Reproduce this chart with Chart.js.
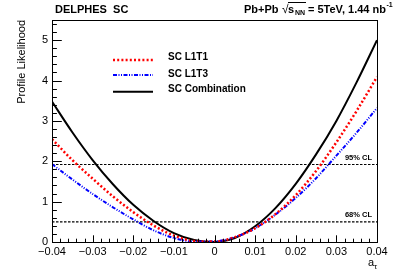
<!DOCTYPE html>
<html>
<head>
<meta charset="utf-8">
<script src="https://cdn.jsdelivr.net/npm/chart.js@4.4.1/dist/chart.umd.min.js"></script>
<style>
html,body{margin:0;padding:0;background:#fff;}
canvas{display:block;}
</style>
</head>
<body>
<canvas id="c" width="407" height="278"></canvas>
<script>
// ---- data ----
const xValues = [-0.04, -0.035, -0.03, -0.025, -0.02, -0.015, -0.01, -0.005, 0, 0.005, 0.01, 0.015, 0.02, 0.025, 0.03, 0.035, 0.04];
const scL1T1 = [2.55, 2.03, 1.57, 1.13, 0.74, 0.41, 0.16, 0.025, 0.01, 0.12, 0.34, 0.69, 1.16, 1.76, 2.47, 3.25, 4.09];
const scL1T3 = [1.93, 1.55, 1.19, 0.86, 0.56, 0.29, 0.10, 0.01, 0.015, 0.12, 0.34, 0.68, 1.09, 1.58, 2.14, 2.71, 3.32];
const scComb = [3.48, 2.72, 2.03, 1.43, 0.92, 0.52, 0.22, 0.05, 0.003, 0.10, 0.39, 0.84, 1.44, 2.17, 3.00, 3.96, 5.00];
const seriesLabels = ['SC L1T1', 'SC L1T3', 'SC Combination'];
const clLevels = [1.92, 0.5];
const clLabels = ['95% CL', '68% CL'];
const xRange = [-0.04, 0.04];
const yRange = [0, 5.5];

const FONT = "'Liberation Sans', Arial, Helvetica, sans-serif";
const pts = arr => xValues.map((x, i) => ({x: x, y: arr[i]}));

const datasets = [
  {label: seriesLabels[0], data: pts(scL1T1), borderColor: '#ff0000', borderWidth: 2.5, borderDash: [2, 2.2], order: 0, isSeries: true},
  {label: seriesLabels[1], data: pts(scL1T3), borderColor: '#0000ff', borderWidth: 2, borderDash: [4, 1.5, 1, 1.5, 1, 1.5], order: 1, isSeries: true},
  {label: seriesLabels[2], data: pts(scComb), borderColor: '#000000', borderWidth: 2, borderDash: [], order: 2, isSeries: true}
];
clLevels.forEach((lvl, i) => {
  datasets.push({label: clLabels[i], data: [{x: xRange[0], y: lvl}, {x: xRange[1], y: lvl}],
    borderColor: '#000', borderWidth: 1.2, borderDash: [2.5, 1.5], order: 3, isCL: true, clText: clLabels[i]});
});

const rootPlugin = {
  id: 'rootStyle',
  afterDatasetsDraw(chart) {
    const ctx = chart.ctx;
    const a = chart.chartArea;
    const xs = chart.scales.x, ys = chart.scales.y;
    ctx.save();
    ctx.strokeStyle = '#000';
    ctx.lineWidth = 1;
    ctx.setLineDash([]);
    // frame
    ctx.strokeRect(Math.round(a.left) + 0.5, Math.round(a.top) + 0.5, Math.round(a.right - a.left), Math.round(a.bottom - a.top));
    // x ticks (inside)
    ctx.beginPath();
    for (let i = -20; i <= 20; i++) {
      const v = i * 0.002;
      const px = Math.round(xs.getPixelForValue(v)) + 0.5;
      const len = (i % 5 === 0) ? 6.7 : 3.3;
      ctx.moveTo(px, a.bottom);
      ctx.lineTo(px, a.bottom - len);
    }
    // y ticks
    for (let i = 0; i <= 27; i++) {
      const v = i * 0.2;
      const py = Math.round(ys.getPixelForValue(v)) + 0.5;
      const len = (i % 5 === 0) ? 9.8 : 4.9;
      ctx.moveTo(a.left, py);
      ctx.lineTo(a.left + len, py);
    }
    ctx.stroke();

    // CL labels
    ctx.fillStyle = '#000';
    ctx.font = 'bold 7.5px ' + FONT;
    ctx.textAlign = 'right';
    ctx.textBaseline = 'alphabetic';
    chart.data.datasets.forEach(ds => {
      if (!ds.isCL) return;
      const py = ys.getPixelForValue(ds.data[0].y);
      ctx.fillText(ds.clText, a.right - 5, py - 4.5);
    });

    // legend
    const rows = [60, 75, 91.7];
    const textBase = [60, 76.7, 91.7];
    let r = 0;
    chart.data.datasets.forEach(ds => {
      if (!ds.isSeries) return;
      ctx.beginPath();
      ctx.strokeStyle = ds.borderColor;
      ctx.lineWidth = ds.borderWidth;
      ctx.setLineDash(ds.borderDash);
      ctx.moveTo(113, rows[r]);
      ctx.lineTo(153, rows[r]);
      ctx.stroke();
      ctx.setLineDash([]);
      ctx.fillStyle = '#000';
      ctx.font = 'bold 10px ' + FONT;
      ctx.textAlign = 'left';
      ctx.fillText(ds.label, 168, textBase[r]);
      r++;
    });

    // header
    ctx.fillStyle = '#000';
    ctx.strokeStyle = '#000';
    ctx.lineWidth = 1;
    ctx.textAlign = 'left';
    ctx.font = 'bold 11px ' + FONT;
    ctx.fillText('DELPHES  SC', 55, 12.5);
    ctx.fillText('Pb+Pb', 244, 12.5);
    ctx.font = '12px ' + FONT;
    ctx.fillText('\u221A', 282, 13);
    ctx.beginPath();
    ctx.moveTo(288, 2.5); ctx.lineTo(306, 2.5); ctx.stroke();
    ctx.font = 'bold 11px ' + FONT;
    ctx.fillText('s', 288, 12.5);
    ctx.font = 'bold 7px ' + FONT;
    ctx.fillText('NN', 295, 14.5);
    ctx.font = 'bold 11px ' + FONT;
    ctx.fillText('= 5TeV, 1.44 nb', 308, 12.5);
    const w = ctx.measureText('= 5TeV, 1.44 nb').width;
    ctx.font = 'bold 7px ' + FONT;
    ctx.fillText('-1', 308 + w + 0.5, 7);

    // axis titles
    ctx.font = '11px ' + FONT;
    ctx.textAlign = 'right';
    ctx.save();
    ctx.translate(25, 20);
    ctx.rotate(-Math.PI / 2);
    ctx.fillText('Profile Likelihood', 0, 0);
    ctx.restore();
    ctx.textAlign = 'left';
    ctx.fillText('a', 368, 266);
    ctx.font = '8px ' + FONT;
    ctx.fillText('\u03C4', 374, 269);
    ctx.restore();
  }
};

new Chart(document.getElementById('c'), {
  type: 'line',
  data: {datasets: datasets},
  options: {
    responsive: false,
    animation: false,
    devicePixelRatio: 1,
    layout: {padding: {left: 0, right: 30, top: 20, bottom: 0}},
    elements: {point: {radius: 0}, line: {cubicInterpolationMode: 'monotone', fill: false}},
    plugins: {legend: {display: false}, tooltip: {enabled: false}, title: {display: false}},
    scales: {
      x: {
        type: 'linear', min: xRange[0], max: xRange[1],
        grid: {display: false, drawTicks: false},
        border: {display: false},
        ticks: {
          stepSize: 0.01, autoSkip: false, maxRotation: 0, padding: 3,
          color: '#000', font: {family: FONT, size: 11},
          callback: v => {
            const r = Math.round(v * 100) / 100;
            if (r === 0) return '0';
            return (r < 0 ? '\u2212' : '') + Math.abs(r).toFixed(2);
          }
        },
        afterFit: s => { s.height = 36; }
      },
      y: {
        type: 'linear', min: yRange[0], max: yRange[1],
        grid: {display: false, drawTicks: false},
        border: {display: false},
        ticks: {
          stepSize: 1, autoSkip: false, padding: 4,
          color: '#000', font: {family: FONT, size: 11},
          callback: v => (Math.abs(v - Math.round(v)) < 1e-9 ? String(Math.round(v)) : '')
        },
        afterFit: s => { s.width = 52; }
      }
    }
  },
  plugins: [rootPlugin]
});
</script>
</body>
</html>
